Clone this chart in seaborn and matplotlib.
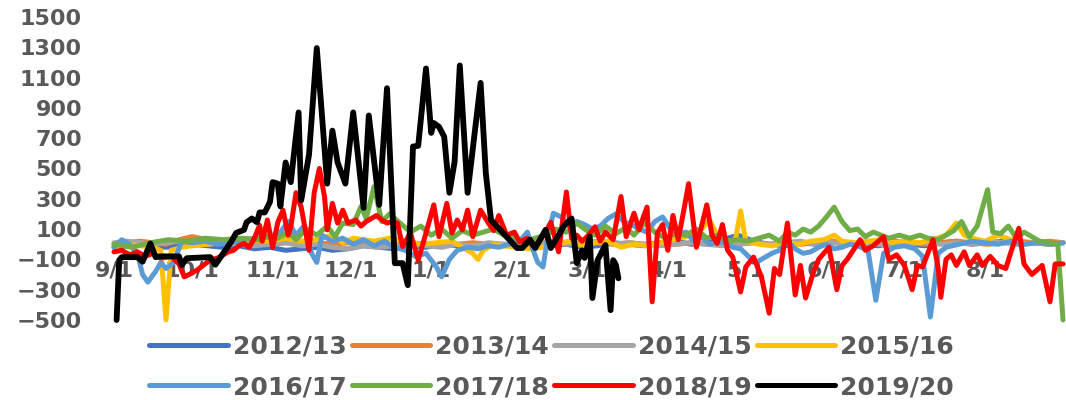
import matplotlib
matplotlib.use("Agg")
import matplotlib.pyplot as plt
from matplotlib.lines import Line2D
import pandas as pd
import seaborn as sns

seasons = ["2012/13", "2013/14", "2014/15", "2015/16", "2016/17", "2017/18", "2018/19", "2019/20"]
colors = ["#4472C4", "#ED7D31", "#A5A5A5", "#FFC000", "#5B9BD5", "#70AD47", "#FF0000", "#000000"]
tick_days = [0, 30, 61, 91, 122, 153, 182, 213, 243, 274, 304, 335]
tick_labels = ["9/1", "10/1", "11/1", "12/1", "1/1", "2/1", "3/1", "4/1", "5/1", "6/1", "7/1", "8/1"]
y_ticks = [-500, -300, -100, 100, 300, 500, 700, 900, 1100, 1300, 1500]

grid_days = [0, 5, 10, 15, 20, 25, 30, 36, 42, 48, 54, 60, 66, 72, 78, 84, 90, 96, 102, 108, 114, 120,
             126, 132, 138, 144, 150, 156, 162, 168, 174, 180, 186, 192, 198, 204, 210, 216, 222, 228,
             234, 240, 246, 252, 258, 264, 270, 276, 282, 288, 294, 300, 306, 312, 318, 324, 330, 336,
             342, 348, 354, 360, 365]

vals_1213 = [-20, -10, 0, -10, -20, -10, 0, -10, -20, -10, -30, -20, -40, -30, -20, -40, -30,
             -10, -20, -30, -10, -20, 0, -10, -20, -10, 0, -10, -20, -10, 0, -20, -10, 10, 0, -10, 10,
             20, 0, 10, 30, 60, 20, 0, -10, 10, 0, 20, 10, 0, -10, 10, 0, -10, 10, 20, 0,
             10, 20, 0, 10, 0, 10]
vals_1314 = [0, 10, 20, 10, 0, 30, 50, 30, 10, 20, 10, 0, 10, 20, 10, 0, 10,
             0, -10, 0, 10, 0, -10, 0, 10, 0, -10, 0, 10, 20, 10, 0, 10, 0, 10, 0, 10,
             0, 10, 0, 10, 0, 10, 0, 10, 0, 10, 20, 10, 0, 10, 20, 10, 0, 10, 20, 10,
             0, 10, 20, 10, 20, 10]
vals_1415 = [10, 20, 10, 0, 10, 20, 10, 0, 10, 0, -10, 0, 10, -10, 0, -20, -30,
             -10, -20, -10, 0, -10, -20, 0, -10, 10, 0, -10, 0, 10, 0, 10, 20, 0, 10, 0, -10,
             0, 10, 0, -10, 0, 10, 0, 10, 20, 0, 10, 0, 10, 0, -10, 0, 10, 0, 10, 0,
             20, 10, 0, 10, 0, 10]

days_1516 = [0, 5, 10, 15, 18, 20, 22, 26, 30, 36, 42, 48, 54, 60, 66, 72, 78, 84, 88, 92, 96, 100,
             106, 112, 118, 124, 130, 134, 138, 140, 142, 146, 150, 155, 160, 165, 170, 175, 180, 185,
             190, 195, 200, 205, 210, 215, 220, 225, 229, 232, 236, 239, 241, 243, 248, 253, 258, 263,
             268, 273, 277, 280, 285, 290, 295, 300, 305, 310, 315, 320, 324, 327, 330, 335, 340, 345,
             350, 355, 360, 365]
vals_1516 = [-20, 0, -10, -20, -40, -500, -40, -20, -10, 0, 10, 20, 30, 20, 40, 20, 30, 60, 10, 40,
             30, 20, 40, 20, 0, 10, 20, -20, -60, -100, -40, 0, -10, -20, -30, -20, 0, 20, -10, 10,
             20, -20, 0, -10, 10, 30, 50, 80, 160, 60, 20, 30, 220, 20, 0, -10, 10, 0, 20, 30,
             60, 20, 10, 20, 30, 10, 20, 10, 30, 60, 140, 60, 40, 20, 60, 30, 0, 10, 0, 10]

days_1617 = [0, 3, 6, 9, 11, 13, 16, 18, 20, 23, 26, 30, 35, 40, 45, 50, 55, 60, 64, 67, 70, 73, 76,
             78, 80, 84, 88, 92, 96, 100, 104, 108, 112, 116, 120, 124, 126, 129, 132, 136, 140, 144,
             148, 152, 156, 159, 161, 163, 165, 167, 169, 172, 175, 178, 181, 184, 187, 190, 193, 196,
             199, 202, 205, 208, 211, 214, 217, 220, 223, 226, 229, 232, 235, 238, 241, 244, 247, 250,
             253, 256, 259, 262, 265, 268, 271, 274, 277, 280, 283, 286, 290, 293, 296, 300, 304, 308,
             311, 314, 317, 320, 325, 330, 335, 340, 345, 350, 355, 360, 365]
vals_1617 = [-20, 30, 0, -60, -200, -250, -180, -120, -160, -120, 20, 10, 20, 0, 10, 30, 40, 50, 80,
             150, 60, 120, -60, -120, 60, 20, 40, 0, 30, -10, 20, -20, -40, -80, -60, -150, -215, -100,
             -40, -20, -30, -10, -20, 0, 20, 80, -30, -120, -150, 60, 205, 180, 120, 150, 130, 100,
             120, 170, 200, 150, 130, 100, 80, 150, 180, 100, 70, 80, 20, 50, 0, 20, 10, -20, -30,
             -80, -120, -90, -60, -40, 20, -30, -60, -50, -20, 0, -30, -20, 0, -10, -40, -370, -60,
             -20, -10, -30, -80, -480, -60, -20, 0, 20, 10, 0, 20, 0, 10, 0, 10]

days_1718 = [0, 7, 14, 21, 28, 35, 42, 49, 56, 60, 63, 67, 70, 74, 78, 82, 85, 88, 92, 95, 97, 100,
             103, 106, 110, 114, 118, 122, 126, 130, 134, 138, 142, 146, 150, 154, 158, 162, 166, 170,
             174, 178, 181, 185, 189, 193, 197, 200, 204, 208, 212, 216, 220, 224, 228, 232, 236, 240,
             244, 248, 252, 256, 259, 262, 265, 268, 271, 274, 277, 280, 283, 286, 289, 292, 295, 298,
             302, 306, 310, 313, 317, 320, 323, 326, 329, 332, 336, 338, 341, 344, 347, 350, 353, 356,
             360, 363, 365]
vals_1718 = [0, -20, 10, 30, 20, 40, 30, 40, 30, 60, 40, 80, 30, 100, 60, 120, 50, 140, 130, 250,
             170, 380, 150, 200, 140, 80, 120, 60, 100, 40, 90, 60, 80, 100, 60, 40, 20, 40, 60, 100,
             80, 140, 100, 60, 120, 70, 110, 60, 140, 80, 40, 70, 60, 100, 40, 60, 20, 30, 20, 40,
             60, 20, 80, 60, 100, 80, 120, 180, 245, 150, 90, 100, 50, 80, 60, 40, 60, 40, 60, 40,
             30, 60, 90, 150, 50, 120, 360, 80, 70, 120, 40, 80, 50, 20, 10, 0, -500]

days_1819 = [0, 3, 6, 9, 12, 15, 18, 22, 25, 27, 30, 32, 35, 37, 40, 42, 44, 46, 48, 50,
             52, 54, 56, 57, 59, 61, 63, 65, 67, 68, 70, 72, 75, 77, 79, 81, 82, 84, 86, 88,
             90, 93, 95, 97, 99, 101, 103, 105, 107, 109, 111, 114, 117, 120, 123, 125, 128, 130, 132, 134,
             136, 138, 141, 144, 146, 148, 151, 154, 156, 159, 161, 163, 166, 168, 171, 174, 176, 178, 180, 182,
             185, 187, 189, 192, 195, 197, 200, 202, 203, 205, 207, 209, 211, 213, 215, 217, 219, 221, 224, 228,
             230, 232, 234, 236, 238, 241, 243, 246, 249, 252, 254, 256, 259, 262, 264, 266, 269, 271, 275, 278,
             280, 282, 287, 289, 292, 296, 298, 301, 304, 307, 309, 311, 315, 317, 318, 320, 322, 324, 327, 329,
             332, 334, 337, 340, 343, 345, 348, 350, 353, 357, 360, 362, 365]
vals_1819 = [-50, -40, -70, -50, -80, -60, -90, -80, -130, -215,
             -190, -170, -130, -105, -90, -70, -50, -40, -10, 5,
             -20, 40, 125, 20, 160, -20, 145, 225, 60, 115,
             340, 245, -40, 340, 500, 310, 95, 270, 140, 225,
             140, 160, 120, 150, 170, 190, 160, 140, 150, 140,
             -15, 75, -105, 75, 260, 50, 270, 75, 160, 95,
             225, 50, 225, 140, 90, 190, 60, 80, 15, 40,
             -10, 5, 80, 145, -50, 345, 40, 60, 20, 50,
             115, 20, 80, 30, 315, 50, 205, 95, 150, 245,
             -380, 75, 130, -40, 190, 30, 210, 400, -20, 260,
             60, 5, 130, -40, -85, -315, -150, -85, -215, -455,
             -160, -200, 140, -335, -140, -355, -185, -100, -20, -300,
             -140, -100, 30, -40, -10, 50, -100, -70, -140, -300,
             -140, -150, 30, -160, -350, -100, -70, -140, -50, -140,
             -70, -140, -80, -140, -160, -50, 105, -130, -200, -140,
             -380, -130, -130]

days_1920 = [1, 2, 3, 9, 11, 14, 16, 18, 25, 26, 28, 37, 39, 41, 45, 47, 50, 51, 53, 55,
             56, 58, 60, 61, 63, 64, 66, 68, 71, 72, 75, 78, 82, 84, 86, 89, 92, 96, 98, 102,
             105, 108, 111, 113, 115, 117, 120, 122, 123, 125, 127, 129, 131, 133, 136, 141, 143, 145, 155, 157,
             160, 162, 166, 168, 171, 173, 176, 178, 180, 181, 183, 184, 186, 189, 191, 192, 193, 194]
vals_1920 = [-500, -105, -85, -85, -115, 5, -85, -80, -80, -137, -92, -85, -135, -85, 15, 75, 95, 145, 170, 145,
             210, 210, 280, 410, 400, 250, 540, 410, 870, 290, 590, 1295, 400, 750, 540, 400, 870, 240, 850, 260,
             1030, -125, -125, -270, 645, 650, 1160, 735, 800, 775, 710, 340, 545, 1180, 340, 1065, 470, 160, -25, -25,
             30, -25, 95, -25, 60, 120, 170, -125, -40, -90, 50, -355, -105, -5, -435, -105, -135, -225]

series_days = [grid_days, grid_days, grid_days, days_1516, days_1617, days_1718, days_1819, days_1920]
series_vals = [vals_1213, vals_1314, vals_1415, vals_1516, vals_1617, vals_1718, vals_1819, vals_1920]

frames = []
for s, d, v in zip(seasons, series_days, series_vals):
    frames.append(pd.DataFrame({"day": d, "value": v, "season": s}))
df = pd.concat(frames, ignore_index=True)

sns.set_style("white")
plt.rcParams["font.family"] = ["DejaVu Sans"]
plt.rcParams["font.weight"] = "bold"
text_color = "#595959"

fig = plt.figure(figsize=(10.66, 4.0), dpi=100)
ax = fig.add_axes([114 / 1066, 80 / 400, 949 / 1066, 303 / 400])

sns.lineplot(data=df, x="day", y="value", hue="season", hue_order=seasons, palette=colors,
             estimator=None, sort=False, linewidth=3.6, legend=False, ax=ax)

for line in ax.get_lines():
    line.set_solid_capstyle("round")
    line.set_solid_joinstyle("round")
    line.set_clip_on(False)
ax.get_lines()[-1].set_linewidth(4.2)

ax.set_xlim(0, 365)
ax.set_ylim(-500, 1500)
ax.set_yticks(y_ticks)
ax.set_xticks(tick_days)
ax.set_xticklabels(tick_labels)
ax.set_xlabel("")
ax.set_ylabel("")
for sp in ax.spines.values():
    sp.set_visible(False)
ax.spines["bottom"].set_position(("data", -100))
ax.tick_params(axis="y", length=0, pad=23, labelsize=16, labelcolor=text_color)
ax.tick_params(axis="x", length=0, pad=1, labelsize=16, labelcolor=text_color)
ax.grid(False)

handles = [Line2D([0], [0], color=c, lw=3.6, solid_capstyle="round") for c in colors]
order = [0, 4, 1, 5, 2, 6, 3, 7]
fig.legend([handles[i] for i in order], [seasons[i] for i in order], ncol=4, loc="center",
           bbox_to_anchor=(0.5174, 0.0825), frameon=False,
           prop={"size": 18, "weight": "bold"}, labelcolor=text_color,
           handlelength=3.15, handletextpad=0.2, columnspacing=0.2, labelspacing=0.65,
           borderpad=0, borderaxespad=0)

fig.savefig("out.png", dpi=100)
